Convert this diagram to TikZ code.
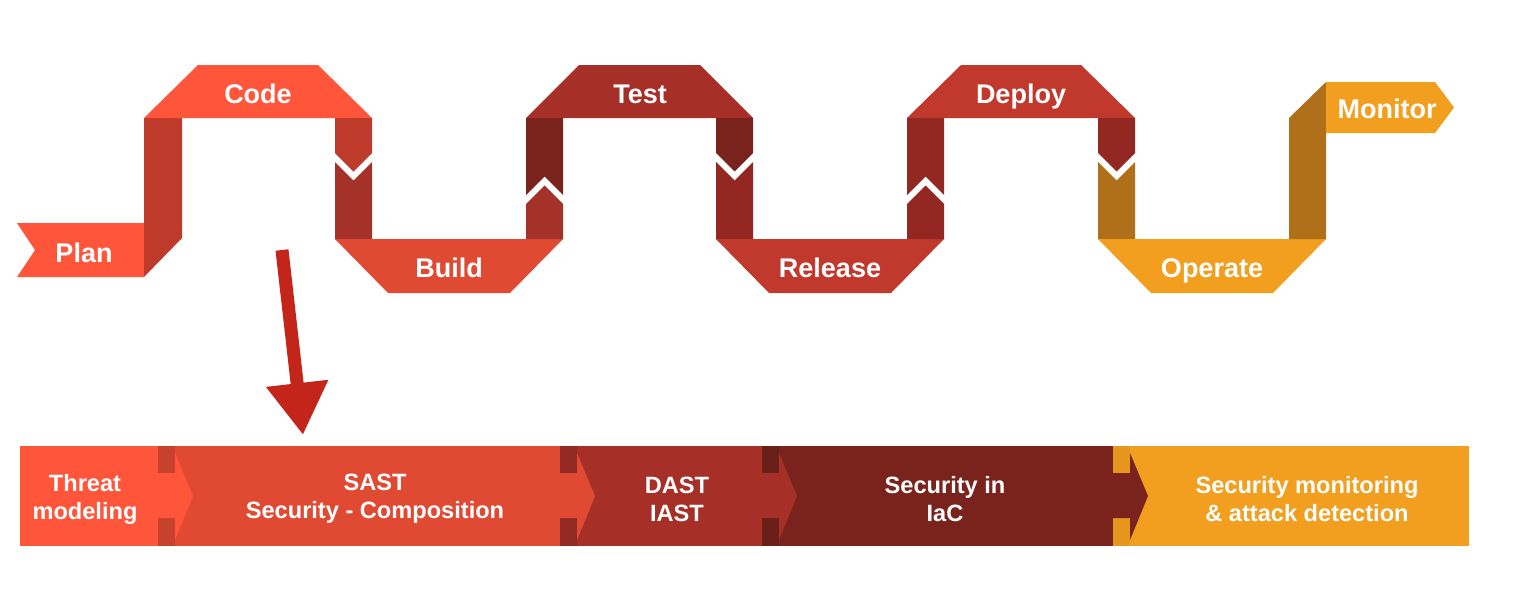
\documentclass[tikz,border=0pt]{standalone}
\usepackage{fontspec}
\setmainfont{Liberation Sans}
\usetikzlibrary{arrows.meta,calc}

\definecolor{coral}{HTML}{FF563B}
\definecolor{bandA}{HTML}{BE3A2B}
\definecolor{bandB}{HTML}{A43229}
\definecolor{buildred}{HTML}{E04A33}
\definecolor{testred}{HTML}{A63028}
\definecolor{darkred}{HTML}{7A231C}
\definecolor{brownred}{HTML}{932823}
\definecolor{relred}{HTML}{C0392C}
\definecolor{gold}{HTML}{B06F19}
\definecolor{amber}{HTML}{F29E1E}
\definecolor{arrowred}{HTML}{C4251A}

\tikzset{
  stage/.style={text=white,anchor=base,font=\fontsize{27}{32}\selectfont\bfseries},
  cell/.style={minimum height=100pt,inner sep=0pt,outer sep=0pt},
  celltext/.style={text=white,align=center,font=\fontsize{23.6}{28}\selectfont\bfseries},
  pointer/.style={draw=arrowred,line width=13pt,-{Triangle[width=59pt,length=52pt]}},
}

\begin{document}
\begin{tikzpicture}[x=1pt,y=-1pt]
    \useasboundingbox (0,0) rectangle (1517,598);

    % ribbon
    \fill[coral] (17,223) -- (144,223) -- (144,277) -- (17,277) -- (35,250) -- cycle;
    \fill[bandA] (144,118) -- (182,118) -- (182,238) -- (144,277) -- cycle;
    \fill[coral] (144,118) -- (198,65) -- (318,65) -- (372,118) -- cycle;
    \fill[bandA] (335,118) -- (372,118) -- (372,153) -- (353.5,171.5) -- (335,153) -- cycle;
    \fill[bandB] (335,162) -- (353.5,180.5) -- (372,162) -- (372,239) -- (335,239) -- cycle;
    \fill[buildred] (335,239) -- (563,239) -- (510,293) -- (388,293) -- cycle;
    \fill[bandB] (526,239) -- (526,204) -- (544.5,185.5) -- (563,204) -- (563,239) -- cycle;
    \fill[darkred] (526,118) -- (563,118) -- (563,195) -- (544.5,176.5) -- (526,195) -- cycle;
    \fill[testred] (526,118) -- (579,65) -- (700,65) -- (753,118) -- cycle;
    \fill[darkred] (716,118) -- (753,118) -- (753,153) -- (734.5,171.5) -- (716,153) -- cycle;
    \fill[brownred] (716,162) -- (734.5,180.5) -- (753,162) -- (753,239) -- (716,239) -- cycle;
    \fill[relred] (716,239) -- (944,239) -- (891,293) -- (769,293) -- cycle;
    \fill[brownred] (907,239) -- (907,204) -- (925.5,185.5) -- (944,204) -- (944,239) -- cycle;
    \fill[brownred] (907,118) -- (944,118) -- (944,195) -- (925.5,176.5) -- (907,195) -- cycle;
    \fill[relred] (907,118) -- (961,65) -- (1081,65) -- (1135,118) -- cycle;
    \fill[brownred] (1098,118) -- (1135,118) -- (1135,153) -- (1116.5,171.5) -- (1098,153) -- cycle;
    \fill[gold] (1098,162) -- (1116.5,180.5) -- (1135,162) -- (1135,239) -- (1098,239) -- cycle;
    \fill[amber] (1098,239) -- (1326,239) -- (1273,293) -- (1151,293) -- cycle;
    \fill[gold] (1289,239) -- (1289,118) -- (1326,82) -- (1326,239) -- cycle;
    \fill[amber] (1326,82) -- (1435,82) -- (1454,107.5) -- (1435,133) -- (1326,133) -- cycle;

    \node[stage] (plan) at (84,262) {Plan};
    \node[stage] (code) at (258,103) {Code};
    \node[stage] (build) at (449,277) {Build};
    \node[stage] (test) at (640,103) {Test};
    \node[stage] (release) at (830,277) {Release};
    \node[stage] (deploy) at (1021,103) {Deploy};
    \node[stage] (operate) at (1212,277) {Operate};
    \node[stage] (monitor) at (1387,118) {Monitor};

    % pointer down to the bar
    \coordinate (tail) at (282,250);
    \coordinate (tip) at (303,435);
    \draw[pointer] (tail) -- (tip);

    % security bar
    \node[cell,fill=coral,minimum width=138pt] (threat) at (89,496) {};
    \node[cell,fill=buildred,minimum width=402pt] (sast) at (359,496) {};
    \node[cell,fill=testred,minimum width=202pt] (dast) at (661,496) {};
    \node[cell,fill=darkred,minimum width=351pt] (iac) at (937.5,496) {};
    \node[cell,fill=amber,minimum width=356pt] (secmon) at (1291,496) {};

    \foreach \a/\b/\c/\s in {threat/buildred/coral/89,sast/testred/buildred/88,dast/darkred/testred/88,iac/amber/darkred/95}{
        \fill[\b!\s!black] (\a.north east) rectangle ($(\a.north east)+(17,27)$);
        \fill[\b!\s!black] (\a.south east) rectangle ($(\a.south east)+(17,-28)$);
        \fill[\c] ($(\a.east)+(0,-23)$) -- ($(\a.east)+(17,-23)$) -- ($(\a.east)+(17,-43)$)
            -- ($(\a.east)+(35,0)$) -- ($(\a.east)+(17,44)$) -- ($(\a.east)+(17,22)$)
            -- ($(\a.east)+(0,22)$) -- cycle;
    }

    \node[celltext] (threattext) at (85,499) {Threat\\modeling};
    \node[celltext] (sasttext) at (375,499) {SAST\\Security - Composition};
    \node[celltext] (dasttext) at (677,499) {DAST\\IAST};
    \node[celltext] (iactext) at (945,499) {Security in\\IaC};
    \node[celltext] (secmontext) at (1307,499) {Security monitoring\\\& attack detection};
\end{tikzpicture}
\end{document}
